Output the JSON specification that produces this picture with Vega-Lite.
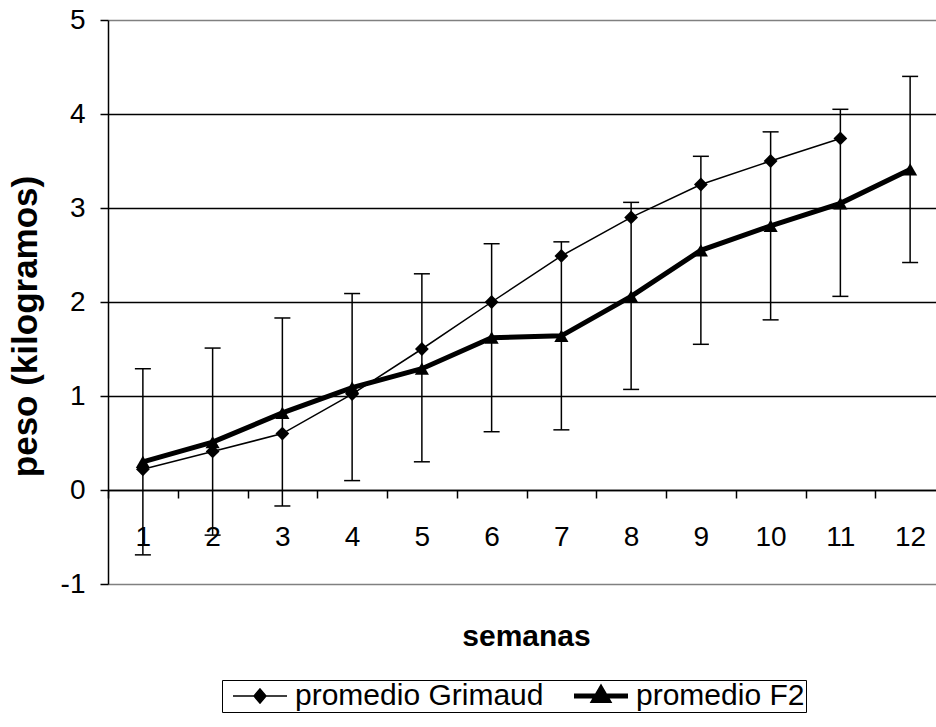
{
  "$schema": "https://vega.github.io/schema/vega-lite/v6.json",
  "width": 828,
  "height": 564,
  "autosize": "none",
  "padding": {"left": 108, "top": 20, "right": 0, "bottom": 143},
  "background": "white",
  "config": {
    "view": {"stroke": null},
    "font": "Liberation Sans",
    "axis": {"labelFont": "Liberation Sans", "titleFont": "Liberation Sans"},
    "legend": {"labelFont": "Liberation Sans"}
  },
  "datasets": {
    "medias": [
      {"semana": 1, "serie": "promedio F2", "peso": 0.30},
      {"semana": 2, "serie": "promedio F2", "peso": 0.51},
      {"semana": 3, "serie": "promedio F2", "peso": 0.82},
      {"semana": 4, "serie": "promedio F2", "peso": 1.09},
      {"semana": 5, "serie": "promedio F2", "peso": 1.29},
      {"semana": 6, "serie": "promedio F2", "peso": 1.62},
      {"semana": 7, "serie": "promedio F2", "peso": 1.64},
      {"semana": 8, "serie": "promedio F2", "peso": 2.06},
      {"semana": 9, "serie": "promedio F2", "peso": 2.55},
      {"semana": 10, "serie": "promedio F2", "peso": 2.81},
      {"semana": 11, "serie": "promedio F2", "peso": 3.05},
      {"semana": 12, "serie": "promedio F2", "peso": 3.41},
      {"semana": 1, "serie": "promedio Grimaud", "peso": 0.22},
      {"semana": 2, "serie": "promedio Grimaud", "peso": 0.41},
      {"semana": 3, "serie": "promedio Grimaud", "peso": 0.60},
      {"semana": 4, "serie": "promedio Grimaud", "peso": 1.02},
      {"semana": 5, "serie": "promedio Grimaud", "peso": 1.50},
      {"semana": 6, "serie": "promedio Grimaud", "peso": 2.00},
      {"semana": 7, "serie": "promedio Grimaud", "peso": 2.49},
      {"semana": 8, "serie": "promedio Grimaud", "peso": 2.90},
      {"semana": 9, "serie": "promedio Grimaud", "peso": 3.25},
      {"semana": 10, "serie": "promedio Grimaud", "peso": 3.50},
      {"semana": 11, "serie": "promedio Grimaud", "peso": 3.74}
    ],
    "errores": [
      {"semana": 1, "lo": -0.69, "hi": 1.29},
      {"semana": 2, "lo": -0.48, "hi": 1.51},
      {"semana": 3, "lo": -0.17, "hi": 1.83},
      {"semana": 4, "lo": 0.10, "hi": 2.09},
      {"semana": 5, "lo": 0.30, "hi": 2.30},
      {"semana": 6, "lo": 0.62, "hi": 2.62},
      {"semana": 7, "lo": 0.64, "hi": 2.64},
      {"semana": 8, "lo": 1.07, "hi": 3.06},
      {"semana": 9, "lo": 1.55, "hi": 3.55},
      {"semana": 10, "lo": 1.81, "hi": 3.81},
      {"semana": 11, "lo": 2.06, "hi": 4.05},
      {"semana": 12, "lo": 2.42, "hi": 4.40}
    ]
  },
  "layer": [
    {
      "data": {"name": "errores"},
      "mark": {"type": "rule", "color": "black", "strokeWidth": 1.5},
      "encoding": {
        "x": {
          "field": "semana", "type": "ordinal", "title": "semanas",
          "scale": {"type": "band", "range": [0, 837], "paddingInner": 0, "paddingOuter": 0},
          "axis": {
            "offset": -94, "grid": false, "tickBand": "extent", "ticks": true,
            "domainColor": "black", "domainWidth": 1.5,
            "tickColor": "black", "tickSize": 8, "tickWidth": 1.5, "tickOpacity": 1,
            "labelAngle": 0, "labelFontSize": 28, "labelColor": "black",
            "labelPadding": 25, "labelBaseline": "top",
            "titleFontSize": 30, "titleFontWeight": "bold", "titleColor": "black",
            "titleX": 418, "titleY": 155, "titleAlign": "center", "titleBaseline": "alphabetic"
          }
        },
        "y": {
          "field": "lo", "type": "quantitative", "title": "peso (kilogramos)",
          "scale": {"domain": [-1, 5], "nice": false, "zero": false},
          "axis": {
            "values": [-1, 0, 1, 2, 3, 4, 5],
            "grid": true,
            "gridColor": {"condition": {"test": "datum.value === 5 || datum.value === -1", "value": "#808080"}, "value": "black"},
            "gridWidth": 1.3,
            "domainColor": "black", "domainWidth": 1.5,
            "tickColor": "black", "tickSize": 8, "tickWidth": 1.5,
            "labelFontSize": 28, "labelColor": "black", "labelPadding": 15,
            "labelExpr": "'' + datum.value",
            "titleFontSize": 35, "titleFontWeight": "bold", "titleColor": "black",
            "titleX": -72, "titleY": 306, "titleAlign": "center", "titleBaseline": "alphabetic", "titleAngle": -90
          }
        },
        "y2": {"field": "hi"}
      }
    },
    {
      "data": {"name": "errores"},
      "mark": {"type": "tick", "color": "black", "size": 16, "thickness": 1.5, "opacity": 1},
      "encoding": {
        "x": {"field": "semana", "type": "ordinal", "title": "semanas"},
        "y": {"field": "lo", "type": "quantitative", "title": "peso (kilogramos)"}
      }
    },
    {
      "data": {"name": "errores"},
      "mark": {"type": "tick", "color": "black", "size": 16, "thickness": 1.5, "opacity": 1},
      "encoding": {
        "x": {"field": "semana", "type": "ordinal", "title": "semanas"},
        "y": {"field": "hi", "type": "quantitative", "title": "peso (kilogramos)"}
      }
    },
    {
      "data": {"name": "medias"},
      "transform": [{"filter": "datum.serie === 'promedio F2'"}],
      "mark": {"type": "line", "color": "black", "strokeWidth": 5},
      "encoding": {
        "x": {"field": "semana", "type": "ordinal", "title": "semanas"},
        "y": {"field": "peso", "type": "quantitative", "title": "peso (kilogramos)"}
      }
    },
    {
      "data": {"name": "medias"},
      "transform": [{"filter": "datum.serie === 'promedio Grimaud'"}],
      "mark": {"type": "line", "color": "black", "strokeWidth": 1.5},
      "encoding": {
        "x": {"field": "semana", "type": "ordinal", "title": "semanas"},
        "y": {"field": "peso", "type": "quantitative", "title": "peso (kilogramos)"}
      }
    },
    {
      "data": {"name": "medias"},
      "transform": [{"filter": "datum.serie === 'promedio F2'"}],
      "mark": {"type": "point", "shape": "triangle-up", "filled": true, "opacity": 1, "color": "black", "size": 200},
      "encoding": {
        "x": {"field": "semana", "type": "ordinal", "title": "semanas"},
        "y": {"field": "peso", "type": "quantitative", "title": "peso (kilogramos)"}
      }
    },
    {
      "data": {"name": "medias"},
      "transform": [{"filter": "datum.serie === 'promedio Grimaud'"}],
      "mark": {"type": "point", "shape": "diamond", "filled": true, "opacity": 1, "color": "black", "size": 190},
      "encoding": {
        "x": {"field": "semana", "type": "ordinal", "title": "semanas"},
        "y": {"field": "peso", "type": "quantitative", "title": "peso (kilogramos)"}
      }
    },
    {
      "data": {"name": "medias"},
      "transform": [{"filter": "datum.semana > 99"}],
      "mark": {"type": "point", "fill": "black", "stroke": "black", "opacity": 1},
      "encoding": {
        "x": {"field": "semana", "type": "ordinal", "title": "semanas"},
        "y": {"field": "peso", "type": "quantitative", "title": "peso (kilogramos)"},
        "shape": {
          "field": "serie", "type": "nominal",
          "scale": {
            "domain": ["promedio Grimaud", "promedio F2"],
            "range": ["M-0.5,0H4.9M2.2,-0.7L2.8,0L2.2,0.7L1.6,0Z", "M-0.5,0H4.9M2.2,-0.75L2.9,0.45L1.5,0.45Z"]
          },
          "legend": {
            "orient": "none", "legendX": 114, "legendY": 660,
            "direction": "horizontal", "title": null,
            "labelFontSize": 30, "labelColor": "black", "labelLimit": 500,
            "symbolSize": 400, "labelOffset": 42, "columnPadding": 20,
            "padding": 1, "strokeColor": "black", "fillColor": "white"
          }
        },
        "strokeWidth": {
          "field": "serie", "type": "nominal",
          "scale": {"domain": ["promedio Grimaud", "promedio F2"], "range": [1.5, 5]},
          "legend": {
            "orient": "none", "legendX": 114, "legendY": 660,
            "direction": "horizontal", "title": null,
            "labelFontSize": 30, "labelColor": "black", "labelLimit": 500,
            "symbolSize": 400, "labelOffset": 42, "columnPadding": 20,
            "padding": 1, "strokeColor": "black", "fillColor": "white"
          }
        }
      }
    }
  ]
}
